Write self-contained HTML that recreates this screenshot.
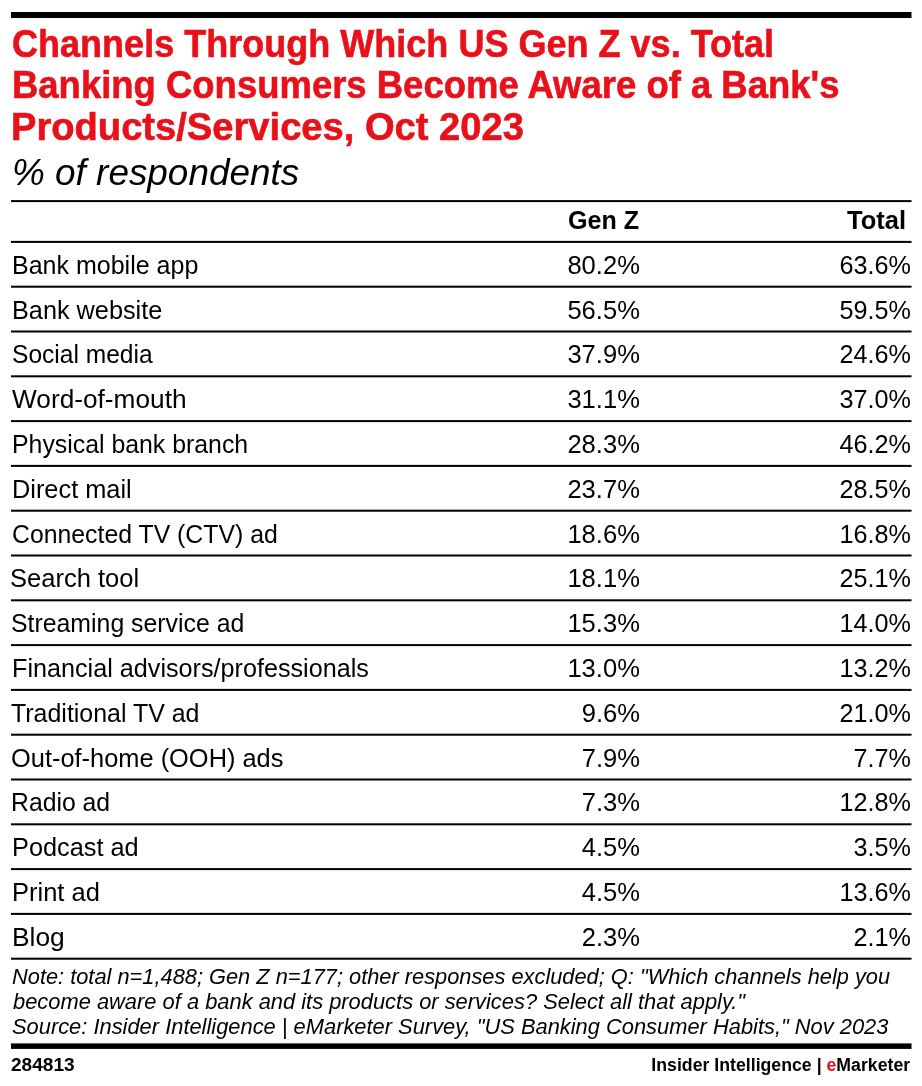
<!DOCTYPE html>
<html>
<head>
<meta charset="utf-8">
<style>
html,body{margin:0;padding:0;background:#fff;}
body{width:922px;height:1086px;position:relative;overflow:hidden;font-family:"Liberation Sans",Arial,sans-serif;color:#000;}
.t{position:absolute;white-space:nowrap;line-height:1;}
.ti{color:#e8111a;font-weight:bold;-webkit-text-stroke:0.6px #e8111a;}
.it{font-style:italic;}
.b{font-weight:bold;}
</style>
</head>
<body>
<svg style="position:absolute;left:0;top:0" width="922" height="1086" viewBox="0 0 922 1086"><g fill="#000"><rect x="11" y="12" width="900.5" height="6"/><rect x="11" y="1043.4" width="900.5" height="5.5"/><rect x="11" y="200.10" width="900.5" height="2"/><rect x="11" y="240.90" width="900.5" height="2"/><rect x="11" y="285.70" width="900.5" height="2"/><rect x="11" y="330.50" width="900.5" height="2"/><rect x="11" y="375.30" width="900.5" height="2"/><rect x="11" y="420.10" width="900.5" height="2"/><rect x="11" y="464.90" width="900.5" height="2"/><rect x="11" y="509.70" width="900.5" height="2"/><rect x="11" y="554.50" width="900.5" height="2"/><rect x="11" y="599.30" width="900.5" height="2"/><rect x="11" y="644.10" width="900.5" height="2"/><rect x="11" y="688.90" width="900.5" height="2"/><rect x="11" y="733.70" width="900.5" height="2"/><rect x="11" y="778.50" width="900.5" height="2"/><rect x="11" y="823.30" width="900.5" height="2"/><rect x="11" y="868.10" width="900.5" height="2"/><rect x="11" y="912.90" width="900.5" height="2"/><rect x="11" y="957.70" width="900.5" height="2"/></g></svg>
<div class="t ti" style="top:25.18px;font-size:38.3px;left:11.60px;transform:scaleX(0.9409);transform-origin:left center;">Channels Through Which US Gen Z vs. Total</div>
<div class="t ti" style="top:66.38px;font-size:38.3px;left:11.61px;transform:scaleX(0.9523);transform-origin:left center;">Banking Consumers Become Aware of a Bank's</div>
<div class="t ti" style="top:108.38px;font-size:38.3px;left:11.48px;transform:scaleX(0.9957);transform-origin:left center;">Products/Services, Oct 2023</div>
<div class="t it" style="top:154.93px;font-size:36px;left:11.98px;transform:scaleX(1.0250);transform-origin:left center;">% of respondents</div>
<div class="t b" style="top:207.55px;font-size:25.1px;right:282.47px;transform:scaleX(1.0003);transform-origin:right center;">Gen Z</div>
<div class="t b" style="top:207.55px;font-size:25.1px;right:16.02px;transform:scaleX(1.0179);transform-origin:right center;">Total</div>
<div class="t " style="top:252.80px;font-size:25.0px;left:12.01px;transform:scaleX(1.0003);transform-origin:left center;">Bank mobile app</div>
<div class="t " style="top:252.80px;font-size:25.0px;right:282.41px;transform:scaleX(1.0227);transform-origin:right center;">80.2%</div>
<div class="t " style="top:252.80px;font-size:25.0px;right:11.35px;transform:scaleX(1.0083);transform-origin:right center;">63.6%</div>
<div class="t " style="top:297.60px;font-size:25.0px;left:11.97px;transform:scaleX(1.0106);transform-origin:left center;">Bank website</div>
<div class="t " style="top:297.60px;font-size:25.0px;right:282.40px;transform:scaleX(1.0227);transform-origin:right center;">56.5%</div>
<div class="t " style="top:297.60px;font-size:25.0px;right:11.40px;transform:scaleX(1.0083);transform-origin:right center;">59.5%</div>
<div class="t " style="top:342.40px;font-size:25.0px;left:11.55px;transform:scaleX(0.9824);transform-origin:left center;">Social media</div>
<div class="t " style="top:342.40px;font-size:25.0px;right:282.40px;transform:scaleX(1.0227);transform-origin:right center;">37.9%</div>
<div class="t " style="top:342.40px;font-size:25.0px;right:11.40px;transform:scaleX(1.0083);transform-origin:right center;">24.6%</div>
<div class="t " style="top:387.20px;font-size:25.0px;left:12.00px;transform:scaleX(1.0498);transform-origin:left center;">Word-of-mouth</div>
<div class="t " style="top:387.20px;font-size:25.0px;right:282.40px;transform:scaleX(1.0227);transform-origin:right center;">31.1%</div>
<div class="t " style="top:387.20px;font-size:25.0px;right:11.40px;transform:scaleX(1.0083);transform-origin:right center;">37.0%</div>
<div class="t " style="top:432.00px;font-size:25.0px;left:12.03px;transform:scaleX(0.9938);transform-origin:left center;">Physical bank branch</div>
<div class="t " style="top:432.00px;font-size:25.0px;right:282.40px;transform:scaleX(1.0227);transform-origin:right center;">28.3%</div>
<div class="t " style="top:432.00px;font-size:25.0px;right:11.40px;transform:scaleX(1.0083);transform-origin:right center;">46.2%</div>
<div class="t " style="top:476.80px;font-size:25.0px;left:11.99px;transform:scaleX(1.0136);transform-origin:left center;">Direct mail</div>
<div class="t " style="top:476.80px;font-size:25.0px;right:282.40px;transform:scaleX(1.0227);transform-origin:right center;">23.7%</div>
<div class="t " style="top:476.80px;font-size:25.0px;right:11.40px;transform:scaleX(1.0083);transform-origin:right center;">28.5%</div>
<div class="t " style="top:521.60px;font-size:25.0px;left:11.50px;transform:scaleX(0.9926);transform-origin:left center;">Connected TV (CTV) ad</div>
<div class="t " style="top:521.60px;font-size:25.0px;right:282.40px;transform:scaleX(1.0227);transform-origin:right center;">18.6%</div>
<div class="t " style="top:521.60px;font-size:25.0px;right:11.40px;transform:scaleX(1.0083);transform-origin:right center;">16.8%</div>
<div class="t " style="top:566.40px;font-size:25.0px;left:10.47px;transform:scaleX(1.0208);transform-origin:left center;">Search tool</div>
<div class="t " style="top:566.40px;font-size:25.0px;right:282.40px;transform:scaleX(1.0227);transform-origin:right center;">18.1%</div>
<div class="t " style="top:566.40px;font-size:25.0px;right:11.40px;transform:scaleX(1.0083);transform-origin:right center;">25.1%</div>
<div class="t " style="top:611.20px;font-size:25.0px;left:11.49px;transform:scaleX(0.9935);transform-origin:left center;">Streaming service ad</div>
<div class="t " style="top:611.20px;font-size:25.0px;right:282.40px;transform:scaleX(1.0227);transform-origin:right center;">15.3%</div>
<div class="t " style="top:611.20px;font-size:25.0px;right:11.40px;transform:scaleX(1.0083);transform-origin:right center;">14.0%</div>
<div class="t " style="top:656.00px;font-size:25.0px;left:11.98px;transform:scaleX(1.0073);transform-origin:left center;">Financial advisors/professionals</div>
<div class="t " style="top:656.00px;font-size:25.0px;right:282.40px;transform:scaleX(1.0227);transform-origin:right center;">13.0%</div>
<div class="t " style="top:656.00px;font-size:25.0px;right:11.40px;transform:scaleX(1.0083);transform-origin:right center;">13.2%</div>
<div class="t " style="top:700.80px;font-size:25.0px;left:11.48px;transform:scaleX(0.9973);transform-origin:left center;">Traditional TV ad</div>
<div class="t " style="top:700.80px;font-size:25.0px;right:282.40px;transform:scaleX(1.0227);transform-origin:right center;">9.6%</div>
<div class="t " style="top:700.80px;font-size:25.0px;right:11.40px;transform:scaleX(1.0083);transform-origin:right center;">21.0%</div>
<div class="t " style="top:745.60px;font-size:25.0px;left:11.49px;transform:scaleX(1.0161);transform-origin:left center;">Out-of-home (OOH) ads</div>
<div class="t " style="top:745.60px;font-size:25.0px;right:282.40px;transform:scaleX(1.0227);transform-origin:right center;">7.9%</div>
<div class="t " style="top:745.60px;font-size:25.0px;right:11.40px;transform:scaleX(1.0083);transform-origin:right center;">7.7%</div>
<div class="t " style="top:790.40px;font-size:25.0px;left:11.02px;transform:scaleX(0.9903);transform-origin:left center;">Radio ad</div>
<div class="t " style="top:790.40px;font-size:25.0px;right:282.40px;transform:scaleX(1.0227);transform-origin:right center;">7.3%</div>
<div class="t " style="top:790.40px;font-size:25.0px;right:11.40px;transform:scaleX(1.0083);transform-origin:right center;">12.8%</div>
<div class="t " style="top:835.20px;font-size:25.0px;left:11.99px;transform:scaleX(1.0128);transform-origin:left center;">Podcast ad</div>
<div class="t " style="top:835.20px;font-size:25.0px;right:282.40px;transform:scaleX(1.0227);transform-origin:right center;">4.5%</div>
<div class="t " style="top:835.20px;font-size:25.0px;right:11.40px;transform:scaleX(1.0083);transform-origin:right center;">3.5%</div>
<div class="t " style="top:880.00px;font-size:25.0px;left:11.98px;transform:scaleX(1.0193);transform-origin:left center;">Print ad</div>
<div class="t " style="top:880.00px;font-size:25.0px;right:282.40px;transform:scaleX(1.0227);transform-origin:right center;">4.5%</div>
<div class="t " style="top:880.00px;font-size:25.0px;right:11.40px;transform:scaleX(1.0083);transform-origin:right center;">13.6%</div>
<div class="t " style="top:924.80px;font-size:25.0px;left:11.83px;transform:scaleX(1.0545);transform-origin:left center;">Blog</div>
<div class="t " style="top:924.80px;font-size:25.0px;right:282.40px;transform:scaleX(1.0227);transform-origin:right center;">2.3%</div>
<div class="t " style="top:924.80px;font-size:25.0px;right:11.40px;transform:scaleX(1.0083);transform-origin:right center;">2.1%</div>
<div class="t it" style="top:965.54px;font-size:22.4px;left:11.52px;transform:scaleX(0.9739);transform-origin:left center;">Note: total n=1,488; Gen Z n=177; other responses excluded; Q: "Which channels help you</div>
<div class="t it" style="top:990.54px;font-size:22.4px;left:12.50px;transform:scaleX(0.9770);transform-origin:left center;">become aware of a bank and its products or services? Select all that apply."</div>
<div class="t it" style="top:1015.69px;font-size:22.4px;left:11.53px;transform:scaleX(0.9766);transform-origin:left center;">Source: Insider Intelligence | eMarketer Survey, "US Banking Consumer Habits," Nov 2023</div>
<div class="t b" style="top:1056.26px;font-size:18px;left:10.96px;transform:scaleX(1.0590);transform-origin:left center;">284813</div>
<div class="t b" style="top:1056.26px;font-size:18px;right:11.37px;transform:scaleX(0.9834);transform-origin:right center;">Insider Intelligence | <span style="color:#e8111a">e</span>Marketer</div>
</body>
</html>
